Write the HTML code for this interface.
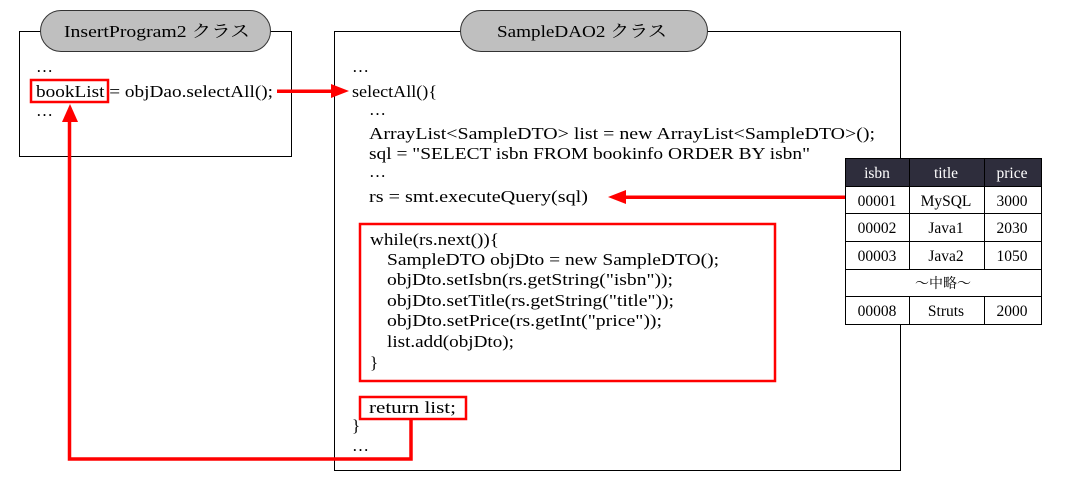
<!DOCTYPE html>
<html><head><meta charset="utf-8"><style>
body{margin:0;background:#fff;}
svg{display:block;}
text{font-family:"Liberation Serif","Noto Serif CJK SC","Noto Sans CJK JP",serif;font-size:17px;fill:#000;}
.t{font-size:15.5px;}
</style></head><body>
<svg width="1067" height="487" viewBox="0 0 1067 487">
<rect x="19.5" y="31.5" width="272" height="125" fill="#fff" stroke="#000" stroke-width="1"/>
<rect x="40.5" y="10.5" width="230" height="41" rx="20.5" fill="#bfbfbf" stroke="#333"/>
<text x="64" y="37" textLength="186" lengthAdjust="spacingAndGlyphs">InsertProgram2 クラス</text>
<text x="36" y="72">…</text>
<text x="36" y="97" textLength="237" lengthAdjust="spacingAndGlyphs">bookList = objDao.selectAll();</text>
<text x="36" y="116">…</text>
<rect x="31" y="80" width="77" height="22" fill="none" stroke="#f00" stroke-width="2.5"/>

<rect x="334.5" y="31.5" width="566" height="439" fill="#fff" stroke="#000" stroke-width="1"/>
<rect x="460.5" y="10.5" width="247" height="41" rx="20.5" fill="#bfbfbf" stroke="#333"/>
<text x="497" y="37" textLength="170" lengthAdjust="spacingAndGlyphs">SampleDAO2 クラス</text>
<text x="352" y="72">…</text>
<text x="352" y="97" textLength="85" lengthAdjust="spacingAndGlyphs">selectAll(){</text>
<text x="369" y="115">…</text>
<text x="369" y="139" textLength="506" lengthAdjust="spacingAndGlyphs">ArrayList&lt;SampleDTO&gt; list = new ArrayList&lt;SampleDTO&gt;();</text>
<text x="369" y="159" textLength="441" lengthAdjust="spacingAndGlyphs">sql = "SELECT isbn FROM bookinfo ORDER BY isbn"</text>
<text x="369" y="177">…</text>
<text x="369" y="202" textLength="219" lengthAdjust="spacingAndGlyphs">rs = smt.executeQuery(sql)</text>

<rect x="360" y="224" width="415" height="157" fill="none" stroke="#f00" stroke-width="2.5"/>
<text x="370" y="245" textLength="129" lengthAdjust="spacingAndGlyphs">while(rs.next()){</text>
<text x="387" y="265" textLength="332" lengthAdjust="spacingAndGlyphs">SampleDTO objDto = new SampleDTO();</text>
<text x="387" y="285" textLength="286" lengthAdjust="spacingAndGlyphs">objDto.setIsbn(rs.getString("isbn"));</text>
<text x="387" y="306" textLength="287" lengthAdjust="spacingAndGlyphs">objDto.setTitle(rs.getString("title"));</text>
<text x="387" y="326" textLength="275" lengthAdjust="spacingAndGlyphs">objDto.setPrice(rs.getInt("price"));</text>
<text x="387" y="347" textLength="127" lengthAdjust="spacingAndGlyphs">list.add(objDto);</text>
<text x="370" y="368">}</text>

<rect x="360" y="397" width="106" height="22" fill="none" stroke="#f00" stroke-width="2.5"/>
<text x="369" y="413" textLength="87" lengthAdjust="spacingAndGlyphs">return list;</text>
<text x="352" y="431">}</text>
<text x="352" y="451">…</text>

<g stroke="#000" stroke-width="1">
<rect x="845.5" y="158.5" width="196" height="28" fill="#2e2d3c"/>
<rect x="845.5" y="186.5" width="196" height="138" fill="#fff"/>
<line x1="845" y1="213.5" x2="1041" y2="213.5"/>
<line x1="845" y1="241.5" x2="1041" y2="241.5"/>
<line x1="845" y1="269.5" x2="1041" y2="269.5"/>
<line x1="845" y1="296.5" x2="1041" y2="296.5"/>
<line x1="909.5" y1="158" x2="909.5" y2="269"/>
<line x1="984.5" y1="158" x2="984.5" y2="269"/>
<line x1="909.5" y1="296" x2="909.5" y2="324"/>
<line x1="984.5" y1="296" x2="984.5" y2="324"/>
</g>
<g text-anchor="middle">
<text class="t" x="877" y="178" style="fill:#fff">isbn</text>
<text class="t" x="946" y="178" style="fill:#fff">title</text>
<text class="t" x="1012" y="178" style="fill:#fff">price</text>
<text class="t" x="877" y="206">00001</text><text class="t" x="946" y="206">MySQL</text><text class="t" x="1012" y="206">3000</text>
<text class="t" x="877" y="233">00002</text><text class="t" x="946" y="233">Java1</text><text class="t" x="1012" y="233">2030</text>
<text class="t" x="877" y="261">00003</text><text class="t" x="946" y="261">Java2</text><text class="t" x="1012" y="261">1050</text>
<text class="t" x="943" y="288" style="font-size:14px">～中略～</text>
<text class="t" x="877" y="316">00008</text><text class="t" x="946" y="316">Struts</text><text class="t" x="1012" y="316">2000</text>
</g>

<g fill="#f00" stroke="none">
<rect x="277" y="89.5" width="56" height="3.5"/>
<polygon points="331,84 349,91 331,98"/>
<rect x="624" y="195.5" width="221" height="3.5"/>
<polygon points="626,190 608,197 626,204"/>
<polygon points="62,122 70,104 78,122"/>
</g>
<polyline points="411,419 411,459 69.5,459 69.5,120" fill="none" stroke="#f00" stroke-width="3.5"/>
</svg>
</body></html>
